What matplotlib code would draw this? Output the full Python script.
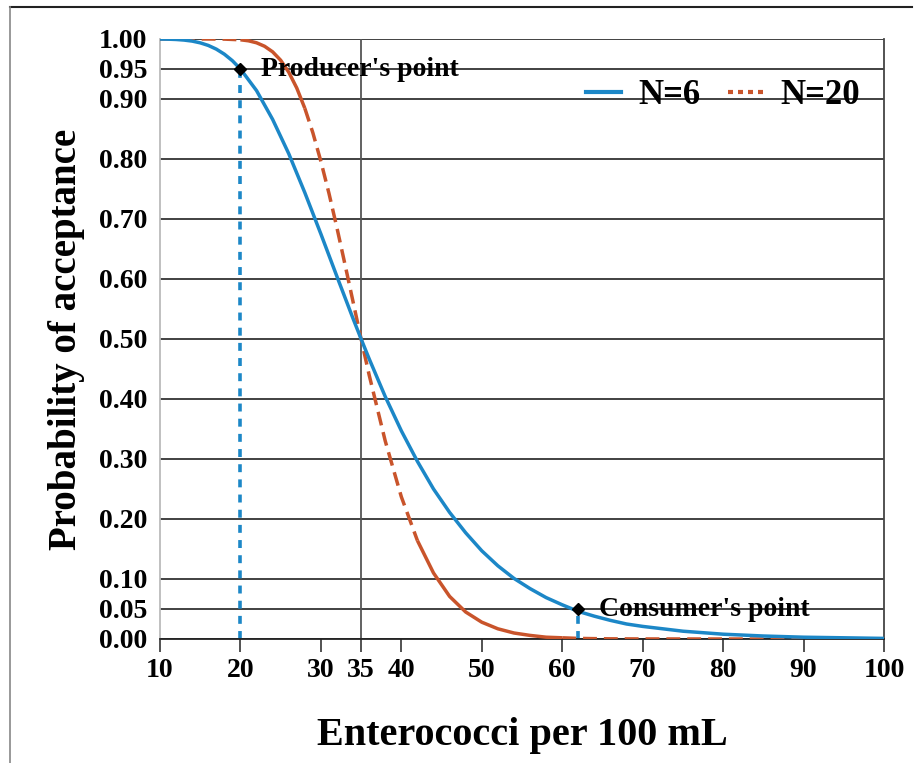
import numpy as np
import matplotlib
matplotlib.use("Agg")
import matplotlib.pyplot as plt
from matplotlib.lines import Line2D

plt.rcParams['font.family'] = ['Liberation Serif', 'DejaVu Serif']
plt.rcParams['font.weight'] = 'bold'

# operating characteristic curves, sample size N=6
x_n6 = [10, 11, 12, 13, 14, 15, 16, 17, 18, 19, 20, 22, 24, 26, 28, 30, 32, 34, 35,
        36, 38, 40, 42, 44, 46, 48, 50, 52, 54, 56, 58, 60, 62, 64, 66, 68, 70,
        75, 80, 85, 90, 95, 100]
pa_n6 = [0.9999, 0.9997, 0.9992, 0.9982, 0.9965, 0.9936, 0.9893, 0.9831, 0.9747,
         0.9638, 0.950, 0.914, 0.866, 0.809, 0.744, 0.675, 0.604, 0.534, 0.500,
         0.467, 0.404, 0.347, 0.296, 0.250, 0.211, 0.177, 0.147, 0.122, 0.101,
         0.084, 0.069, 0.057, 0.046, 0.038, 0.031, 0.025, 0.021,
         0.013, 0.008, 0.005, 0.003, 0.002, 0.001]

# sample size N=20
x_n20 = [10, 12, 14, 16, 18, 20, 21, 22, 23, 24, 25, 26, 27, 28, 29, 30, 31, 32, 33,
         34, 35, 36, 38, 40, 42, 44, 46, 48, 50, 52, 54, 56, 58, 60, 62, 64, 66,
         70, 80, 90, 100]
pa_n20 = [1.0, 1.0, 1.0, 1.0, 0.9998, 0.9987, 0.9970, 0.9937, 0.9879, 0.9786,
          0.9646, 0.9448, 0.9183, 0.8846, 0.8438, 0.796, 0.743, 0.685, 0.624,
          0.562, 0.500, 0.440, 0.330, 0.237, 0.164, 0.110, 0.071, 0.045, 0.028,
          0.017, 0.010, 0.006, 0.003, 0.002, 0.001, 0.0006, 0.0003,
          0.0001, 0.0, 0.0, 0.0]

producer = (20, 0.95)
consumer = (62, 0.05)
median_x = 35

y_ticks = [0.0, 0.05, 0.10, 0.20, 0.30, 0.40, 0.50, 0.60, 0.70, 0.80, 0.90, 0.95, 1.00]
x_ticks = [10, 20, 30, 35, 40, 50, 60, 70, 80, 90, 100]

BLUE = '#1c87c7'
ORANGE = '#c9542b'

fig = plt.figure(figsize=(9.14, 7.63), dpi=100)
ax = fig.add_axes([160 / 914, 1 - 639 / 763, 724 / 914, 600 / 763])

# grid
for yv in y_ticks:
    ax.axhline(yv, color='#333333', lw=1.3, zorder=1)
ax.axvline(median_x, color='#555555', lw=1.3, zorder=1)

# producer / consumer guide lines
ax.plot([producer[0]] * 2, [0, producer[1]], color=BLUE, lw=2.6,
        dashes=(2.2, 2.0), zorder=2)
ax.plot([consumer[0]] * 2, [0, consumer[1]], color=BLUE, lw=2.6,
        dashes=(2.2, 2.0), zorder=2)

# N=20 curve: solid where the points are dense, dashed elsewhere
xo = np.array(x_n20, dtype=float)
yo = np.array(pa_n20)
segs = [((10, 20), True), ((20, 28), False), ((28, 42), True),
        ((42, 60), False), ((60, 100), True)]
for (a, b), dashed in segs:
    m = (xo >= a) & (xo <= b)
    kw = dict(dashes=(4.0, 2.0)) if dashed else {}
    ax.plot(xo[m], yo[m], color=ORANGE, lw=2.5, zorder=3,
            solid_capstyle='butt', **kw)

ax.plot(x_n6, pa_n6, color=BLUE, lw=2.5, zorder=4)

# reference points
ax.plot(*producer, marker='D', color='black', ms=6, zorder=5)
ax.plot(*consumer, marker='D', color='black', ms=6, zorder=5)
ax.text(producer[0] + 2.6, producer[1], "Producer's point", fontsize=20,
        fontweight='bold', va='center', ha='left', zorder=6)
ax.text(consumer[0] + 2.6, consumer[1], "Consumer's point", fontsize=20,
        fontweight='bold', va='center', ha='left', zorder=6)

ax.set_xlim(10, 100)
ax.set_ylim(0, 1)
ax.set_xticks(x_ticks)
ax.set_xticklabels([str(v) for v in x_ticks])
ax.set_yticks(y_ticks)
ax.set_yticklabels([f'{v:.2f}' for v in y_ticks])
ax.tick_params(axis='x', length=9, width=1.3, color='#444444', direction='out',
               labelsize=20, pad=5)
ax.tick_params(axis='y', length=0, labelsize=20, pad=9)
for lab in ax.get_xticklabels() + ax.get_yticklabels():
    lab.set_fontweight('bold')

ax.spines['top'].set_visible(False)
ax.spines['left'].set_color('#bbbbbb')
ax.spines['left'].set_linewidth(1.3)
ax.spines['right'].set_color('#444444')
ax.spines['right'].set_linewidth(1.3)
ax.spines['bottom'].set_color('#222222')
ax.spines['bottom'].set_linewidth(1.3)

ax.set_xlabel('Enterococci per 100 mL', fontsize=29, fontweight='bold', labelpad=24)
ax.set_ylabel('Probability of acceptance', fontsize=28, fontweight='bold', labelpad=10)

handles = [Line2D([], [], color=BLUE, lw=3),
           Line2D([], [], color=ORANGE, lw=3, dashes=(1.2, 1.2))]
ax.legend(handles, ['N=6', 'N=20'], loc='upper right', bbox_to_anchor=(1.01, 0.985),
          ncol=2, frameon=False, prop={'size': 25, 'weight': 'bold'},
          handlelength=1.0, columnspacing=0.8, handletextpad=0.5)

# outer frame lines
fig.add_artist(Line2D([10 / 914, 912 / 914], [1 - 7 / 763] * 2, color='#222222', lw=1.5))
fig.add_artist(Line2D([10 / 914] * 2, [0, 1 - 7 / 763], color='#888888', lw=1.2))

fig.savefig('out.png', dpi=100)
